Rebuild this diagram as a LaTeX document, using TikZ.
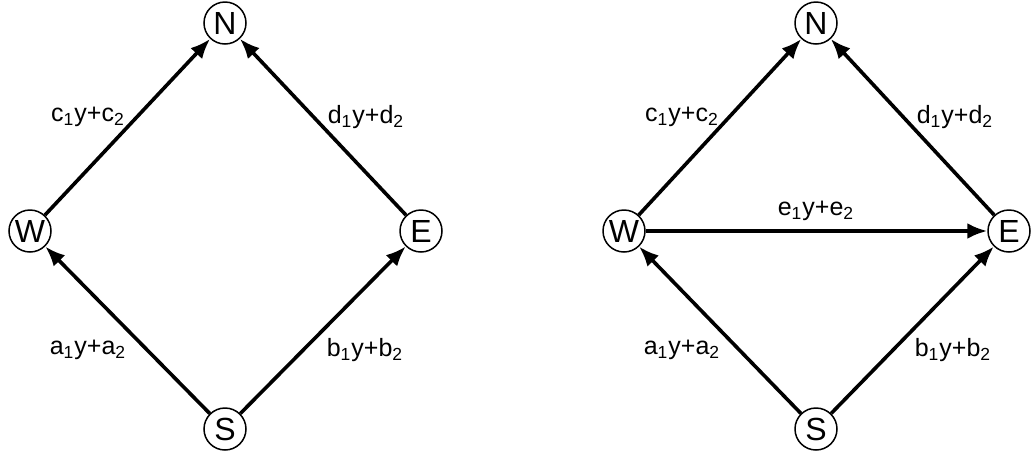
\documentclass[tikz,border=0pt]{standalone}
\usepackage{fontspec}
\setmainfont{Liberation Sans}
\usetikzlibrary{arrows.meta}
\tikzset{
  vtx/.style={circle, draw, line width=0.75pt, minimum size=21pt, inner sep=0pt, font=\fontsize{16}{18}\selectfont},
  arc/.style={line width=1.8pt, -{Latex[length=10pt,width=8pt]}},
  lbl/.style={font=\fontsize{12.5}{15}\selectfont}
}
\newcommand{\wt}[1]{#1\textsubscript{1}y+#1\textsubscript{2}}
\begin{document}
\begin{tikzpicture}[x=0.5pt,y=-0.5pt]
    \useasboundingbox (0,0) rectangle (1034,451);
    % left graph
    \node[vtx] (n) at (225,23) {N};
    \node[vtx] (w) at (30,231) {W};
    \node[vtx] (e) at (421,231) {E};
    \node[vtx] (s) at (225,429) {S};
    \draw[arc] (s) -- (w);
    \draw[arc] (s) -- (e);
    \draw[arc] (w) -- (n);
    \draw[arc] (e) -- (n);
    \node[lbl] (c) at (88,117) {\wt{c}};
    \node[lbl] (d) at (366,117) {\wt{d}};
    \node[lbl] (a) at (88,350) {\wt{a}};
    \node[lbl] (b) at (365,350) {\wt{b}};
    % right graph, with the extra W-E arc
    \node[vtx] (n2) at (816,23) {N};
    \node[vtx] (w2) at (624,231) {W};
    \node[vtx] (e2) at (1009,231) {E};
    \node[vtx] (s2) at (816,429) {S};
    \draw[arc] (s2) -- (w2);
    \draw[arc] (s2) -- (e2);
    \draw[arc] (w2) -- (n2);
    \draw[arc] (e2) -- (n2);
    \draw[arc] (w2) -- (e2);
    \node[lbl] (c2) at (682,117) {\wt{c}};
    \node[lbl] (d2) at (955,117) {\wt{d}};
    \node[lbl] (e12) at (816,211) {\wt{e}};
    \node[lbl] (a2) at (682,350) {\wt{a}};
    \node[lbl] (b2) at (953,350) {\wt{b}};
\end{tikzpicture}
\end{document}
